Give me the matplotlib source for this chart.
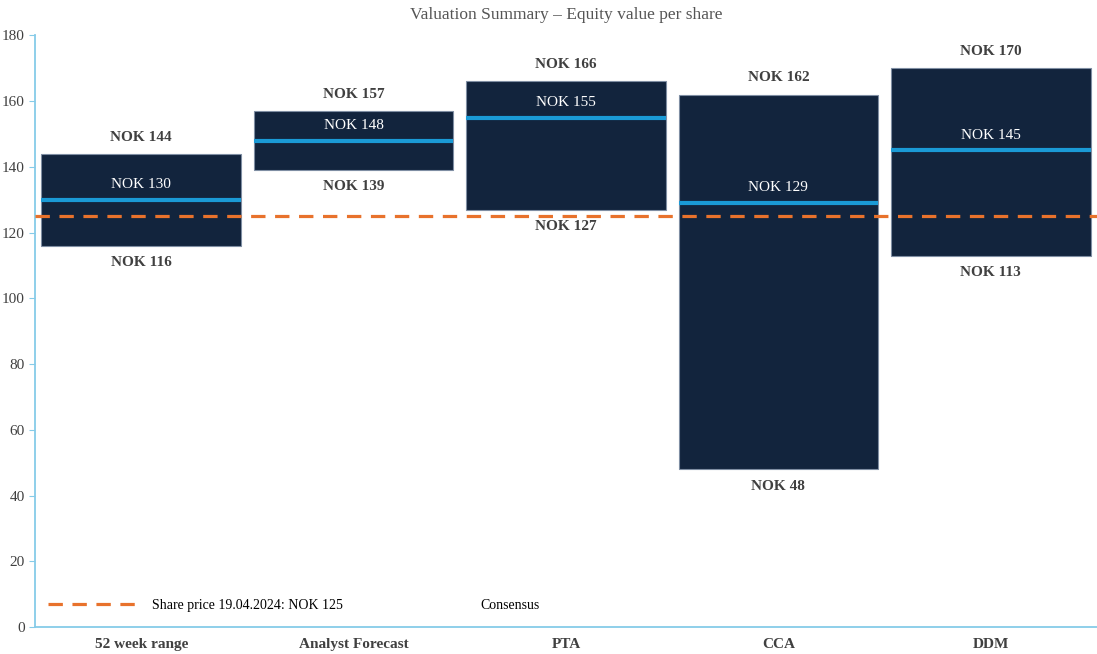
import matplotlib.pyplot as plt
from matplotlib.lines import Line2D

plt.rcParams['font.family'] = ['Liberation Serif', 'DejaVu Serif']

# valuation ranges per method (NOK per share)
methods = ['52 week range', 'Analyst Forecast', 'PTA', 'CCA', 'DDM']
low = [116, 139, 127, 48, 113]
high = [144, 157, 166, 162, 170]
mid = [130, 148, 155, 129, 145]
share_price = 125

navy = '#12243d'
blue = '#1a9ad6'
orange = '#e8722c'
spine = '#86cbe8'
grey = '#404040'
dash = (0, (4.5, 3))

fig = plt.figure(figsize=(10.97, 6.54), dpi=100)
ax = fig.add_axes([0.032, 0.041, 0.968, 0.905])

x = list(range(len(methods)))
w = 0.94
heights = [h - l for h, l in zip(high, low)]
ax.bar(x, heights, bottom=low, width=w, color=navy, edgecolor='#7f8ea3',
       linewidth=0.8, zorder=2)

for xi, m in zip(x, mid):
    ax.hlines(m, xi - w / 2, xi + w / 2, color=blue, linewidth=3, zorder=3)
    ax.annotate(f'NOK {m}', (xi, m), xytext=(0, 11), textcoords='offset points',
                ha='center', va='center', color='white', fontsize=11, zorder=4)

for xi, h, l in zip(x, high, low):
    ax.annotate(f'NOK {h}', (xi, h), xytext=(0, 12), textcoords='offset points',
                ha='center', va='center', color=grey, fontsize=11,
                fontweight='bold')
    ax.annotate(f'NOK {l}', (xi, l), xytext=(0, -12), textcoords='offset points',
                ha='center', va='center', color=grey, fontsize=11,
                fontweight='bold')

ax.axhline(share_price, color=orange, linewidth=2.3, linestyle=dash, zorder=5)

ax.set_xlim(-0.5, len(methods) - 0.5)
ax.set_ylim(0, 180)
ax.set_yticks(range(0, 181, 20))
ax.set_xticks(x)
ax.set_xticklabels(methods, fontweight='bold', color=grey, fontsize=11)
ax.tick_params(axis='x', length=0, pad=8)
ax.tick_params(axis='y', length=4, color=spine, labelcolor=grey, labelsize=11,
               direction='out')

for s in ['top', 'right']:
    ax.spines[s].set_visible(False)
for s in ['left', 'bottom']:
    ax.spines[s].set_color(spine)
    ax.spines[s].set_linewidth(1.3)

ax.set_title('Valuation Summary – Equity value per share', color='#555555',
             fontsize=12.5, pad=12)

handles = [
    Line2D([], [], color=orange, linewidth=2.3, linestyle=dash),
    Line2D([], [], color='white', linewidth=2.3),
]
ax.legend(handles, [f'Share price 19.04.2024: NOK {share_price}', 'Consensus'],
          loc='center left', bbox_to_anchor=(0.0, 0.037), ncol=2,
          frameon=False, fontsize=10, handlelength=6.3, handletextpad=1.2,
          columnspacing=2.4)

fig.savefig('out.png', dpi=100)
